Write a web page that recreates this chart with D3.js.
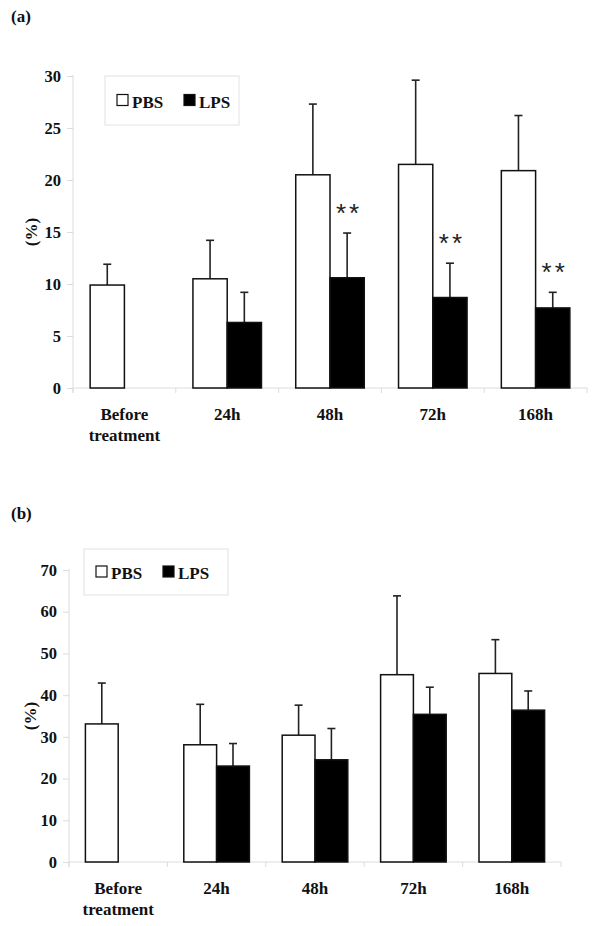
<!DOCTYPE html>
<html>
<head>
<meta charset="utf-8">
<script src="https://cdn.jsdelivr.net/npm/d3@7"></script>
<style>
  body { margin: 0; background: #fff; }
  text { font-family: "Liberation Serif", "Times New Roman", serif; font-weight: bold; fill: #111; }
  .stars { font-family: "Liberation Sans", Arial, sans-serif; font-weight: normal; fill: #222; }
</style>
</head>
<body>
<svg id="chart" width="600" height="926"></svg>
<script>
// categories shared by both panels
var categories = ["Before treatment", "24h", "48h", "72h", "168h"];
var groups = ["PBS", "LPS"];

// panel (a)
var pbsA    = [9.9, 10.5, 20.5, 21.5, 20.9];
var pbsErrA = [2.0, 3.7, 6.8, 8.1, 5.3];
var lpsA    = [null, 6.3, 10.6, 8.7, 7.7];
var lpsErrA = [null, 2.9, 4.3, 3.3, 1.5];
var sigA    = ["", "", "**", "**", "**"];
var ticksA  = [0, 5, 10, 15, 20, 25, 30];

// panel (b)
var pbsB    = [33.1, 28.1, 30.4, 44.9, 45.2];
var pbsErrB = [9.8, 9.7, 7.2, 18.9, 8.1];
var lpsB    = [null, 23.0, 24.5, 35.4, 36.4];
var lpsErrB = [null, 5.4, 7.5, 6.5, 4.6];
var sigB    = ["", "", "", "", ""];
var ticksB  = [0, 10, 20, 30, 40, 50, 60, 70];

var svg = d3.select("#chart");
svg.append("rect").attr("width", 600).attr("height", 926).attr("fill", "#fff");

var axisColor = "#dcdcdc";

function drawPanel(p) {
  var g = svg.append("g");

  var x = d3.scaleBand().domain(categories).range([p.left, p.right]).padding(0);
  var x1 = d3.scaleBand().domain(groups).range([0, x.bandwidth()]).paddingInner(0).paddingOuter(0.5);
  var y = d3.scaleLinear().domain([0, d3.max(p.ticks)]).range([p.bottom, p.top]);

  // y axis
  var ya = g.append("g")
      .attr("transform", "translate(" + p.left + ",0)")
      .call(d3.axisLeft(y).tickValues(p.ticks).tickSize(6).tickPadding(6).tickSizeOuter(0));
  ya.select(".domain").attr("stroke", axisColor).attr("d", "M0," + (p.top - 1) + "V" + (p.bottom + 5));
  ya.selectAll(".tick line").attr("stroke", axisColor);
  ya.selectAll(".tick text")
      .attr("font-size", 16.5).attr("fill", "#111");

  // x axis line + boundary ticks
  g.append("line")
      .attr("x1", p.left).attr("x2", p.right)
      .attr("y1", p.bottom).attr("y2", p.bottom)
      .attr("stroke", axisColor);
  var edges = categories.map(function(c) { return x(c); }).concat([p.right]);
  g.selectAll(".xtick").data(edges).enter().append("line")
      .attr("x1", function(d) { return d; }).attr("x2", function(d) { return d; })
      .attr("y1", p.bottom).attr("y2", p.bottom + 5)
      .attr("stroke", axisColor);

  // x labels (two lines for "Before treatment")
  var lab = g.selectAll(".xlab").data(categories).enter().append("text")
      .attr("text-anchor", "middle")
      .attr("font-size", 17)
      .attr("x", function(d) { return x(d) + x.bandwidth() / 2; })
      .attr("y", p.bottom + 32);
  lab.each(function(d) {
    var words = d.split(" ");
    var t = d3.select(this);
    words.forEach(function(w, i) {
      t.append("tspan")
        .attr("x", x(d) + x.bandwidth() / 2)
        .attr("dy", i === 0 ? 0 : 20.5)
        .text(w);
    });
  });

  // bars
  var rows = categories.map(function(c, i) {
    return [
      { cat: c, grp: "PBS", v: p.pbs[i], e: p.pbsErr[i] },
      { cat: c, grp: "LPS", v: p.lps[i], e: p.lpsErr[i] }
    ];
  });
  var flat = d3.merge(rows).filter(function(d) { return d.v != null; });

  // error bars (upper only)
  var eb = g.selectAll(".err").data(flat).enter().append("g");
  eb.append("line")
      .attr("x1", function(d) { return x(d.cat) + x1(d.grp) + x1.bandwidth() / 2; })
      .attr("x2", function(d) { return x(d.cat) + x1(d.grp) + x1.bandwidth() / 2; })
      .attr("y1", function(d) { return y(d.v); })
      .attr("y2", function(d) { return y(d.v + d.e); })
      .attr("stroke", "#222").attr("stroke-width", 1.6);
  eb.append("line")
      .attr("x1", function(d) { return x(d.cat) + x1(d.grp) + x1.bandwidth() / 2 - 4; })
      .attr("x2", function(d) { return x(d.cat) + x1(d.grp) + x1.bandwidth() / 2 + 4; })
      .attr("y1", function(d) { return y(d.v + d.e); })
      .attr("y2", function(d) { return y(d.v + d.e); })
      .attr("stroke", "#222").attr("stroke-width", 1.6);

  g.selectAll(".bar").data(flat).enter().append("rect")
      .attr("x", function(d) { return x(d.cat) + x1(d.grp); })
      .attr("width", x1.bandwidth())
      .attr("y", function(d) { return y(d.v); })
      .attr("height", function(d) { return y(0) - y(d.v); })
      .attr("fill", function(d) { return d.grp === "PBS" ? "#fff" : "#000"; })
      .attr("stroke", "#111").attr("stroke-width", 1.5);

  // significance marks above LPS error bars
  categories.forEach(function(c, i) {
    if (!p.sig[i]) return;
    g.append("text").attr("class", "stars")
      .attr("text-anchor", "middle")
      .attr("font-size", 26)
      .attr("letter-spacing", 3)
      .attr("x", x(c) + x1("LPS") + x1.bandwidth() / 2 + 2)
      .attr("y", y(p.lps[i] + p.lpsErr[i]) - 11)
      .text(p.sig[i]);
  });

  // y title
  g.append("text")
      .attr("transform", "translate(" + p.ylabX + "," + ((p.top + p.bottom) / 2) + ") rotate(-90)")
      .attr("text-anchor", "middle")
      .attr("font-size", 17)
      .attr("dy", "0.35em")
      .text("(%)");

  // panel letter
  g.append("text").attr("x", 11).attr("y", p.letterY).attr("font-size", 17).text(p.letter);

  // legend
  var L = p.legend;
  g.append("rect")
      .attr("x", L.x).attr("y", L.y).attr("width", L.w).attr("height", L.h)
      .attr("fill", "#fff").attr("stroke", "#e2e2e2");
  var li = g.selectAll(".leg").data(groups).enter().append("g")
      .attr("transform", function(d, i) { return "translate(" + (L.x + 12 + i * 67) + "," + (L.y + L.h / 2) + ")"; });
  li.append("rect")
      .attr("x", 0).attr("y", -6).attr("width", 11).attr("height", 11)
      .attr("fill", function(d) { return d === "PBS" ? "#fff" : "#000"; })
      .attr("stroke", "#111").attr("stroke-width", 1.2);
  li.append("text").attr("x", 15).attr("y", 7).attr("font-size", 17).text(function(d) { return d; });
}

drawPanel({
  letter: "(a)", letterY: 22,
  left: 73, right: 587, top: 76, bottom: 388,
  ticks: ticksA, pbs: pbsA, pbsErr: pbsErrA, lps: lpsA, lpsErr: lpsErrA, sig: sigA,
  ylabX: 31,
  legend: { x: 105, y: 76, w: 134, h: 49 }
});

drawPanel({
  letter: "(b)", letterY: 519,
  left: 69, right: 561, top: 570, bottom: 862,
  ticks: ticksB, pbs: pbsB, pbsErr: pbsErrB, lps: lpsB, lpsErr: lpsErrB, sig: sigB,
  ylabX: 30,
  legend: { x: 84, y: 549, w: 144, h: 46 }
});
</script>
</body>
</html>
